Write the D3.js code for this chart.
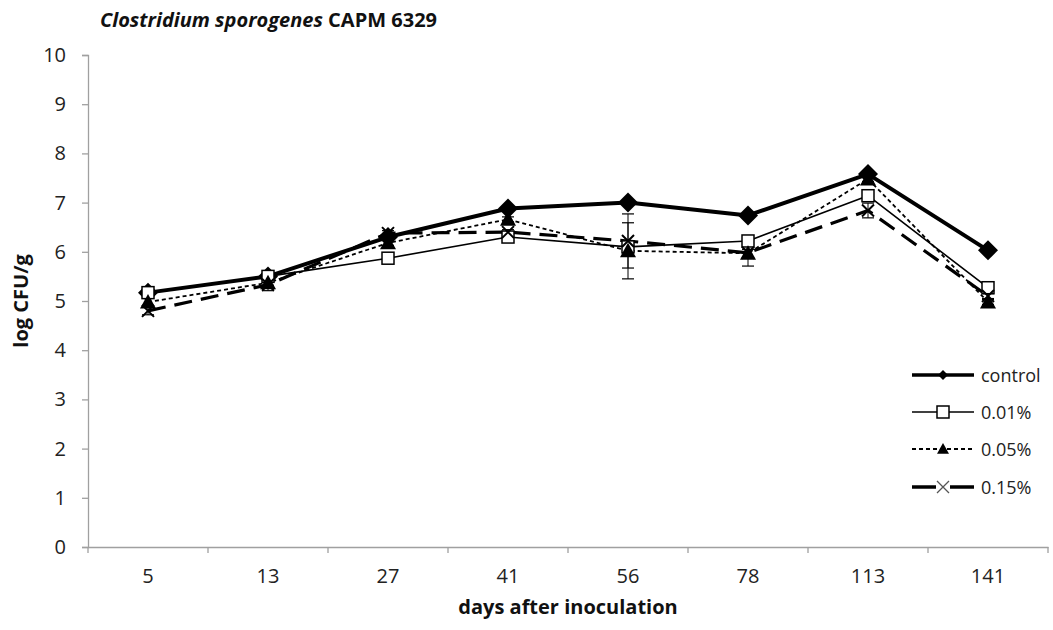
<!DOCTYPE html>
<html>
<head>
<meta charset="utf-8">
<script src="https://cdn.jsdelivr.net/npm/d3@7"></script>
<style>
body { margin: 0; background: #fff; }
svg { display: block; }
text { font-family: "Open Sans", "Noto Sans", sans-serif; }
</style>
</head>
<body>
<svg id="chart" width="1053" height="630"></svg>
<script>
const days = ["5", "13", "27", "41", "56", "78", "113", "141"];
const seriesNames = ["control", "0.01%", "0.05%", "0.15%"];
const control = [5.17, 5.5, 6.3, 6.88, 7.0, 6.74, 7.58, 6.03];
const p001 = [5.17, 5.5, 5.87, 6.3, 6.1, 6.22, 7.14, 5.27];
const p005 = [4.98, 5.37, 6.18, 6.66, 6.02, 5.97, 7.48, 4.98];
const p015 = [4.8, 5.33, 6.38, 6.4, 6.22, 5.98, 6.84, 5.1];
const errControl = [0.05, 0.05, 0.05, 0.05, 0.05, 0.05, 0.05, 0.05];
const err001 = [0.08, 0.08, 0.05, 0.05, 0.05, 0.08, 0.05, 0.05];
const err005 = [0.08, 0.05, 0.05, 0.05, 0.57, 0.08, 0.05, 0.05];
const err015 = [0.08, 0.12, 0.05, 0.05, 0.55, 0.27, 0.15, 0.05];
const yTicks = [0, 1, 2, 3, 4, 5, 6, 7, 8, 9, 10];

const svg = d3.select("#chart");
const mLeft = 88, mRight = 1048, mTop = 55, mBottom = 547;

const x = d3.scaleBand().domain(days).range([mLeft, mRight]);
const y = d3.scaleLinear().domain([0, 10]).range([mBottom, mTop]);

// Y axis
const yAxis = svg.append("g").attr("transform", `translate(${mLeft},0)`)
  .call(d3.axisLeft(y).tickValues(yTicks).tickSize(6).tickPadding(16));
yAxis.select(".domain").attr("stroke", "#a0a0a0").attr("stroke-width", 1.3);
yAxis.selectAll(".tick line").attr("stroke", "#a0a0a0").attr("stroke-width", 1.3);
yAxis.selectAll(".tick text").attr("font-size", 20).attr("fill", "#222")
  .style("font-family", "'Open Sans', sans-serif");

// X axis
const xAxis = svg.append("g").attr("transform", `translate(0,${mBottom})`)
  .call(d3.axisBottom(x).tickSize(0).tickPadding(22));
xAxis.select(".domain").attr("stroke", "#a0a0a0").attr("stroke-width", 1.3);
xAxis.selectAll(".tick text").attr("font-size", 20).attr("fill", "#222")
  .style("font-family", "'Open Sans', sans-serif");
// boundary ticks
const bounds = days.map(d => x(d)).concat([x(days[days.length - 1]) + x.bandwidth()]);
svg.append("g").selectAll("line").data(bounds).join("line")
  .attr("x1", d => d).attr("x2", d => d)
  .attr("y1", mBottom).attr("y2", mBottom + 6)
  .attr("stroke", "#a0a0a0").attr("stroke-width", 1.3);

const cx = d => x(d) + x.bandwidth() / 2;

const series = [
  { name: seriesNames[0], vals: control, err: errControl, width: 4, dash: null, marker: "diamond" },
  { name: seriesNames[1], vals: p001, err: err001, width: 1.6, dash: null, marker: "square" },
  { name: seriesNames[2], vals: p005, err: err005, width: 1.8, dash: "4,3", marker: "triangle" },
  { name: seriesNames[3], vals: p015, err: err015, width: 3.2, dash: "18,9", marker: "cross" }
];

function drawMarker(g, type, px, py, legend) {
  if (type === "diamond") {
    const s = legend ? 5 : 10;
    g.append("path").attr("d", `M${px},${py - s}L${px + s},${py}L${px},${py + s}L${px - s},${py}Z`).attr("fill", "#000");
  } else if (type === "square") {
    const s = 6;
    g.append("rect").attr("x", px - s).attr("y", py - s).attr("width", 2 * s).attr("height", 2 * s)
      .attr("fill", "#fff").attr("stroke", "#000").attr("stroke-width", 1.5);
  } else if (type === "triangle") {
    const s = legend ? 6 : 8;
    g.append("path").attr("d", `M${px},${py - s}L${px + s},${py + s * 0.8}L${px - s},${py + s * 0.8}Z`).attr("fill", "#000");
  } else if (type === "cross") {
    const s = 6;
    g.append("path").attr("d", `M${px - s},${py - s}L${px + s},${py + s}M${px + s},${py - s}L${px - s},${py + s}`)
      .attr("stroke", legend ? "#555" : "#000").attr("stroke-width", legend ? 1.3 : 2);
  }
}

const line = d3.line().x((d, i) => cx(days[i])).y(d => y(d));

// error bars
series.forEach(s => {
  const g = svg.append("g");
  s.vals.forEach((v, i) => {
    const px = cx(days[i]);
    const e = s.err[i];
    g.append("line").attr("x1", px).attr("x2", px).attr("y1", y(v - e)).attr("y2", y(v + e))
      .attr("stroke", "#000").attr("stroke-width", 1);
    [v - e, v + e].forEach(t => g.append("line").attr("x1", px - 6).attr("x2", px + 6)
      .attr("y1", y(t)).attr("y2", y(t)).attr("stroke", "#000").attr("stroke-width", 1.2));
  });
});

// lines
series.forEach(s => {
  svg.append("path").datum(s.vals).attr("d", line)
    .attr("fill", "none").attr("stroke", "#000").attr("stroke-width", s.width)
    .attr("stroke-dasharray", s.dash).attr("stroke-linejoin", "round");
});
// markers
series.forEach(s => {
  const g = svg.append("g");
  s.vals.forEach((v, i) => drawMarker(g, s.marker, cx(days[i]), y(v), false));
});

// legend
const legY = [375, 412, 449, 487];
series.forEach((s, i) => {
  const g = svg.append("g");
  const ly = legY[i];
  const lw = s.marker === "square" ? 1.5 : (s.marker === "triangle" ? 1.8 : 3.5);
  g.append("line").attr("x1", 912).attr("x2", 974).attr("y1", ly).attr("y2", ly)
    .attr("stroke", "#000").attr("stroke-width", lw)
    .attr("stroke-dasharray", s.marker === "triangle" ? "4,3" : null);
  if (s.marker === "cross") {
    g.append("rect").attr("x", 936).attr("y", ly - 5).attr("width", 14).attr("height", 10).attr("fill", "#fff");
  }
  drawMarker(g, s.marker, 943, ly, true);
  g.append("text").attr("x", 981).attr("y", ly + 6.5).attr("font-size", 18).attr("fill", "#222").text(s.name);
});

// title
const title = svg.append("text").attr("x", 100).attr("y", 27).attr("font-size", 20).attr("font-weight", "bold").attr("fill", "#111");
title.append("tspan").attr("font-style", "italic").text("Clostridium sporogenes");
title.append("tspan").text(" CAPM 6329");

// axis titles
svg.append("text").attr("transform", "translate(28,301) rotate(-90)").attr("text-anchor", "middle")
  .attr("font-size", 20).attr("font-weight", "bold").attr("fill", "#111").text("log CFU/g");
svg.append("text").attr("x", 568).attr("y", 614).attr("text-anchor", "middle")
  .attr("font-size", 20).attr("font-weight", "bold").attr("fill", "#111").text("days after inoculation");
</script>
</body>
</html>
